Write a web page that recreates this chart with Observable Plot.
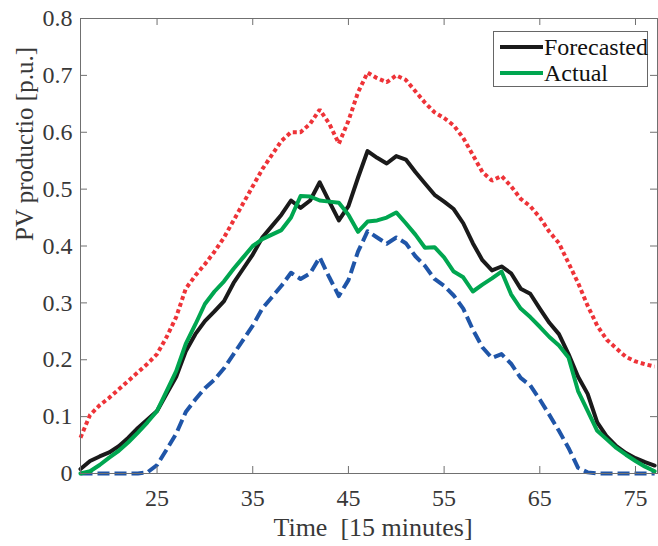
<!DOCTYPE html>
<html>
<head>
<meta charset="utf-8">
<script src="https://cdn.jsdelivr.net/npm/d3@7"></script>
<script src="https://cdn.jsdelivr.net/npm/@observablehq/plot@0.6"></script>
<style>
  html, body { margin: 0; padding: 0; background: #fff; }
  #wrap { position: relative; width: 658px; height: 546px; font-family: "Liberation Serif", "Times New Roman", serif; }
  #wrap svg text { font-family: "Liberation Serif", "Times New Roman", serif !important; }
  #legend { position: absolute; left: 493px; top: 31px; width: 155px; height: 56px; border: 1px solid #666; background: #fff; box-sizing: border-box; }
  .item { position: absolute; left: 6px; display: flex; align-items: center; font-size: 24px; color: #111; line-height: 1; }
  .swatch { width: 43px; height: 4px; margin-right: 1px; }
</style>
</head>
<body>
<div id="wrap"></div>
<script>
// Time index (15-minute intervals)
const time = d3.range(17, 78);

const upper = [0.063,0.103,0.12,0.133,0.148,0.163,0.178,0.193,0.21,0.24,0.275,0.325,0.348,0.368,0.39,0.415,0.445,0.475,0.505,0.535,0.56,0.585,0.60,0.60,0.615,0.64,0.615,0.58,0.62,0.67,0.705,0.695,0.688,0.70,0.692,0.672,0.652,0.635,0.625,0.612,0.59,0.56,0.53,0.515,0.523,0.505,0.483,0.47,0.45,0.425,0.405,0.37,0.335,0.295,0.26,0.235,0.22,0.205,0.197,0.192,0.188];

const forecasted = [0.008,0.022,0.03,0.037,0.048,0.063,0.08,0.095,0.11,0.14,0.17,0.215,0.245,0.268,0.285,0.303,0.335,0.36,0.385,0.415,0.435,0.455,0.48,0.467,0.48,0.512,0.478,0.445,0.47,0.52,0.567,0.555,0.545,0.558,0.552,0.53,0.51,0.49,0.478,0.465,0.44,0.405,0.375,0.357,0.364,0.352,0.325,0.316,0.29,0.265,0.245,0.21,0.17,0.14,0.09,0.065,0.048,0.036,0.027,0.02,0.014];

const actual = [0.0,0.004,0.015,0.028,0.04,0.055,0.072,0.09,0.11,0.145,0.18,0.228,0.262,0.298,0.32,0.338,0.36,0.38,0.40,0.412,0.42,0.428,0.45,0.488,0.487,0.48,0.478,0.476,0.455,0.425,0.443,0.445,0.45,0.459,0.44,0.42,0.397,0.398,0.38,0.355,0.345,0.32,0.332,0.343,0.355,0.315,0.29,0.275,0.258,0.24,0.225,0.204,0.145,0.11,0.075,0.06,0.045,0.033,0.022,0.012,0.004];

const lower = [0,0,0,0,0,0,0,0.002,0.015,0.042,0.07,0.108,0.13,0.15,0.165,0.185,0.21,0.235,0.26,0.29,0.31,0.33,0.353,0.342,0.352,0.38,0.345,0.312,0.34,0.39,0.426,0.415,0.404,0.415,0.405,0.382,0.365,0.342,0.33,0.313,0.29,0.253,0.222,0.203,0.21,0.193,0.168,0.155,0.13,0.103,0.075,0.045,0.01,0.002,0,0,0,0,0,0,0];

const xTicks = [25, 35, 45, 55, 65, 75];
const yTicks = [0, 0.1, 0.2, 0.3, 0.4, 0.5, 0.6, 0.7, 0.8];
const yTickLabels = ["0", "0.1", "0.2", "0.3", "0.4", "0.5", "0.6", "0.7", "0.8"];
const xLabel = "Time\u00a0 [15 minutes]";
const yLabel = "PV productio [p.u.]";
const legendNames = ["Forecasted", "Actual"];

const toRows = (arr) => time.map((t, i) => ({t, v: arr[i]}));

const W = 658, H = 546;
const mL = 80, mT = 18, mR = 1, mB = 73;
const innerW = W - mL - mR, innerH = H - mT - mB;
const tickLen = 7;

const font = "Liberation Serif, Times New Roman, serif";
const tickColor = "#383838";
const frameColor = "#707070";

const chart = Plot.plot({
  width: W, height: H,
  marginLeft: mL, marginTop: mT, marginRight: mR, marginBottom: mB,
  style: {fontFamily: font, fontSize: "24px", color: tickColor, background: "#fff"},
  x: {domain: [17, 77.3]},
  y: {domain: [0, 0.8]},
  marks: [
    Plot.line(toRows(upper), {x: "t", y: "v", stroke: "#ee3338", strokeWidth: 4, strokeDasharray: "4,3", strokeLinecap: "butt", strokeLinejoin: "miter"}),
    Plot.line(toRows(lower), {x: "t", y: "v", stroke: "#1f55a8", strokeWidth: 4, strokeDasharray: "12,5", strokeLinecap: "butt", strokeLinejoin: "round"}),
    Plot.line(toRows(forecasted), {x: "t", y: "v", stroke: "#1a1a1a", strokeWidth: 4}),
    Plot.line(toRows(actual), {x: "t", y: "v", stroke: "#00a650", strokeWidth: 4}),
    Plot.frame({stroke: frameColor, strokeWidth: 1}),
    // inward ticks on all four sides
    Plot.tickX(xTicks, {x: (d) => d, insetTop: innerH - tickLen, stroke: frameColor, strokeWidth: 1}),
    Plot.tickX(xTicks, {x: (d) => d, insetBottom: innerH - tickLen, stroke: frameColor, strokeWidth: 1}),
    Plot.tickY(yTicks, {y: (d) => d, insetRight: innerW - tickLen, stroke: frameColor, strokeWidth: 1}),
    Plot.tickY(yTicks, {y: (d) => d, insetLeft: innerW - tickLen, stroke: frameColor, strokeWidth: 1}),
    // tick labels
    Plot.axisX({anchor: "bottom", ticks: xTicks, tickSize: 0, tickPadding: 15, label: null, fontSize: 24, fontFamily: font, fill: tickColor}),
    Plot.axisY({anchor: "left", ticks: yTicks, tickSize: 0, tickPadding: 8, label: null, fontSize: 24, fontFamily: font, fill: tickColor,
      tickFormat: (d) => yTickLabels[yTicks.findIndex((v) => Math.abs(v - d) < 1e-9)]}),
    Plot.text([xLabel], {frameAnchor: "bottom", text: (d) => d, dy: 62, dx: 4, lineAnchor: "bottom", fontSize: 26, fontFamily: font, fill: tickColor}),
    Plot.text([yLabel], {frameAnchor: "left", text: (d) => d, rotate: -90, dx: -48, dy: -5, lineAnchor: "bottom", fontSize: 25, fontFamily: font, fill: tickColor})
  ]
});

const wrap = document.getElementById("wrap");
wrap.appendChild(chart);

const legend = document.createElement("div");
legend.id = "legend";
const colors = ["#1a1a1a", "#00a650"];
const tops = [3, 29];
legendNames.forEach((name, i) => {
  const item = document.createElement("div");
  item.className = "item";
  item.style.top = tops[i] + "px";
  const sw = document.createElement("span");
  sw.className = "swatch";
  sw.style.background = colors[i];
  const tx = document.createElement("span");
  tx.textContent = name;
  item.appendChild(sw);
  item.appendChild(tx);
  legend.appendChild(item);
});
wrap.appendChild(legend);
</script>
</body>
</html>
